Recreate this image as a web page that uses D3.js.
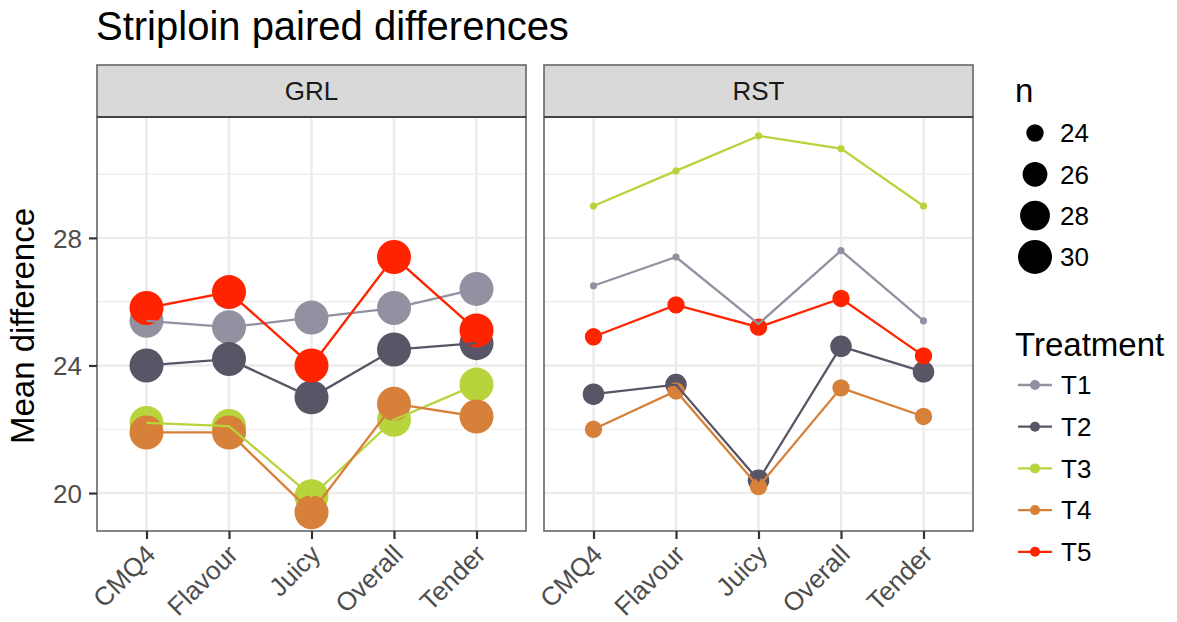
<!DOCTYPE html>
<html><head><meta charset="utf-8">
<script src="https://cdn.jsdelivr.net/npm/d3@7"></script>
<style>
body{margin:0;background:#fff;}
text{font-family:"Liberation Sans",Arial,Helvetica,sans-serif;}
</style></head>
<body>
<svg id="chart" width="1177" height="622"></svg>
<script>
const categories = ["CMQ4","Flavour","Juicy","Overall","Tender"];
const panels = ["GRL","RST"];
const treatments = ["T1","T2","T3","T4","T5"];
const colors = ["#9191A1","#5A5566","#B7D43C","#D6803A","#FF2400"];

// Mean difference values, per panel, per treatment (in category order)
const grlT1 = [25.4, 25.2, 25.5, 25.8, 26.4];
const grlT2 = [24.0, 24.2, 23.0, 24.5, 24.7];
const grlT3 = [22.2, 22.1, 19.9, 22.3, 23.4];
const grlT4 = [21.9, 21.9, 19.4, 22.8, 22.4];
const grlT5 = [25.8, 26.3, 24.0, 27.4, 25.1];
const rstT1 = [26.5, 27.4, 25.3, 27.6, 25.4];
const rstT2 = [23.1, 23.4, 20.4, 24.6, 23.8];
const rstT3 = [29.0, 30.1, 31.2, 30.8, 29.0];
const rstT4 = [22.0, 23.2, 20.2, 23.3, 22.4];
const rstT5 = [24.9, 25.9, 25.2, 26.1, 24.3];

// n (sample size) per panel, per treatment
const grlN = [30, 30, 30, 30, 30];
const rstN = [23, 25, 23, 24, 24];

const yTicks = [20, 24, 28];
const yMinor = [22, 26, 30];
const sizeBreaks = [24, 26, 28, 30];

const values = {GRL:[grlT1,grlT2,grlT3,grlT4,grlT5], RST:[rstT1,rstT2,rstT3,rstT4,rstT5]};
const nvals = {GRL:grlN, RST:rstN};

const svg = d3.select("#chart");
const FONT_SM = 26;
const FONT_MD = 33;

const panelTop = 117, panelBottom = 531;
const panelX = [[97,526],[544,973]];
const stripTop = 65;

const allVals = [].concat(...panels.map(p => [].concat(...values[p])));
const vmin = d3.min(allVals), vmax = d3.max(allVals);
const pad = (vmax - vmin) * 0.05;
const y = d3.scaleLinear().domain([vmin - pad, vmax + pad]).range([panelBottom, panelTop]);

const allN = [].concat(grlN, rstN, sizeBreaks);
const nScale = d3.scaleLinear().domain([d3.min(allN), d3.max(allN)]).range([0,1]).clamp(true);
const rLin = d3.scaleLinear().domain([0,1]).range([3.6, 17]);
const rad = n => rLin(Math.sqrt(nScale(n)));

const gridCol = "#EBEBEB";

panels.forEach((p, pi) => {
  const [x0, x1] = panelX[pi];
  const x = d3.scalePoint().domain(categories).range([x0, x1]).padding(0.6);
  const g = svg.append("g");
  g.append("rect").attr("x",x0).attr("y",panelTop).attr("width",x1-x0).attr("height",panelBottom-panelTop).attr("fill","#fff");
  g.selectAll(".ymin").data(yMinor).enter().append("line")
    .attr("x1",x0).attr("x2",x1).attr("y1",d=>y(d)).attr("y2",d=>y(d))
    .attr("stroke",gridCol).attr("stroke-width",1.2);
  g.selectAll(".ymaj").data(yTicks).enter().append("line")
    .attr("x1",x0).attr("x2",x1).attr("y1",d=>y(d)).attr("y2",d=>y(d))
    .attr("stroke",gridCol).attr("stroke-width",2.4);
  g.selectAll(".xmaj").data(categories).enter().append("line")
    .attr("x1",d=>x(d)).attr("x2",d=>x(d)).attr("y1",panelTop).attr("y2",panelBottom)
    .attr("stroke",gridCol).attr("stroke-width",2.4);

  const clip = "clip"+p;
  svg.append("clipPath").attr("id",clip).append("rect")
    .attr("x",x0).attr("y",panelTop).attr("width",x1-x0).attr("height",panelBottom-panelTop);
  const dg = g.append("g").attr("clip-path",`url(#${clip})`);

  treatments.forEach((t, ti) => {
    const vals = values[p][ti];
    dg.selectAll(".pt"+t).data(vals).enter().append("circle")
      .attr("cx",(d,i)=>x(categories[i])).attr("cy",d=>y(d))
      .attr("r", rad(nvals[p][ti])).attr("fill",colors[ti]);
  });
  const line = d3.line().x((d,i)=>x(categories[i])).y(d=>y(d));
  treatments.forEach((t, ti) => {
    dg.append("path").datum(values[p][ti]).attr("d",line)
      .attr("fill","none").attr("stroke",colors[ti]).attr("stroke-width",2.3);
  });

  g.append("rect").attr("x",x0).attr("y",panelTop).attr("width",x1-x0).attr("height",panelBottom-panelTop)
    .attr("fill","none").attr("stroke","#666").attr("stroke-width",1.6);
  g.append("rect").attr("x",x0).attr("y",stripTop).attr("width",x1-x0).attr("height",panelTop-stripTop)
    .attr("fill","#D9D9D9").attr("stroke","#666").attr("stroke-width",1.6);
  g.append("line").attr("x1",x0).attr("x2",x1).attr("y1",panelTop).attr("y2",panelTop)
    .attr("stroke","#444").attr("stroke-width",2.2);
  g.append("text").attr("x",(x0+x1)/2).attr("y",(stripTop+panelTop)/2).attr("dy","0.36em")
    .attr("text-anchor","middle").attr("font-size",FONT_SM).attr("fill","#1A1A1A").text(p);

  const xa = g.append("g").attr("transform",`translate(0,${panelBottom})`)
    .call(d3.axisBottom(x).tickSize(8).tickPadding(4));
  xa.select(".domain").remove();
  xa.selectAll(".tick line").attr("stroke","#333").attr("stroke-width",2.2);
  xa.selectAll(".tick text").attr("font-size",FONT_SM).attr("fill","#4D4D4D")
    .attr("text-anchor","end").attr("dy",null).attr("y",null)
    .attr("transform","translate(10,25) rotate(-45)");

  if (pi === 0) {
    const ya = g.append("g").attr("transform",`translate(${x0},0)`)
      .call(d3.axisLeft(y).tickValues(yTicks).tickSize(8).tickPadding(7));
    ya.select(".domain").remove();
    ya.selectAll(".tick line").attr("stroke","#333").attr("stroke-width",2.2);
    ya.selectAll(".tick text").attr("font-size",FONT_SM).attr("fill","#4D4D4D").attr("dy","0.36em");
  }
});

svg.append("text").attr("x",96).attr("y",40).attr("font-size",40).attr("fill","#000").text("Striploin paired differences");
svg.append("text").attr("transform",`translate(34,${(panelTop+panelBottom)/2 + 2}) rotate(-90)`)
  .attr("text-anchor","middle").attr("font-size",FONT_MD).attr("fill","#000").text("Mean difference");

const lg = svg.append("g");
lg.append("text").attr("x",1015).attr("y",102).attr("font-size",FONT_MD).attr("fill","#000").text("n");
sizeBreaks.forEach((b, i) => {
  const cy = 133 + i*41.3;
  lg.append("circle").attr("cx",1035).attr("cy",cy).attr("r",rad(b)).attr("fill","#000");
  lg.append("text").attr("x",1060).attr("y",cy).attr("dy","0.36em").attr("font-size",FONT_SM).attr("fill","#000").text(b);
});
lg.append("text").attr("x",1015).attr("y",356).attr("font-size",FONT_MD).attr("fill","#000").text("Treatment");
treatments.forEach((t, i) => {
  const cy = 385 + i*41.7;
  lg.append("line").attr("x1",1018).attr("x2",1052).attr("y1",cy).attr("y2",cy)
    .attr("stroke",colors[i]).attr("stroke-width",2.3);
  lg.append("circle").attr("cx",1035).attr("cy",cy).attr("r",5).attr("fill",colors[i]);
  lg.append("text").attr("x",1061).attr("y",cy).attr("dy","0.36em").attr("font-size",FONT_SM).attr("fill","#000").text(t);
});
</script>
</body></html>
